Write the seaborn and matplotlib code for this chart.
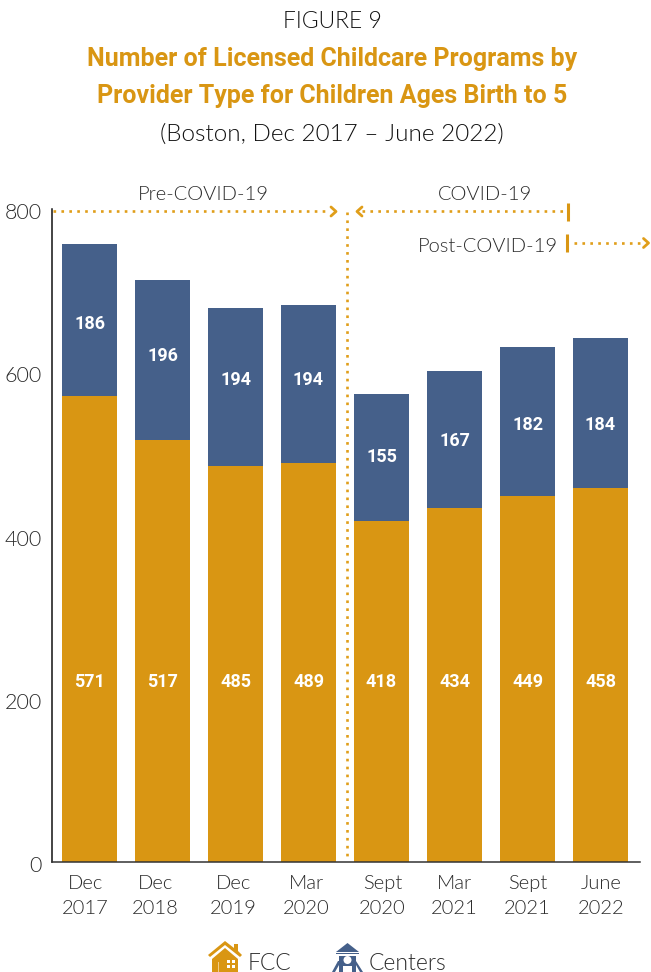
import matplotlib
matplotlib.use("Agg")
import matplotlib.pyplot as plt
from matplotlib.patches import Rectangle, Polygon, Ellipse
from matplotlib.transforms import ScaledTranslation
import seaborn as sns
import pandas as pd

periods = ["Dec\n2017", "Dec\n2018", "Dec\n2019", "Mar\n2020", "Sept\n2020", "Mar\n2021", "Sept\n2021", "June\n2022"]
fcc = [571, 517, 485, 489, 418, 434, 449, 458]
centers = [186, 196, 194, 194, 155, 167, 182, 184]
yticks = [0, 200, 400, 600, 800]
GOLD = "#D99613"
DOTGOLD = "#E09E1A"
BLUE = "#45608A"
DARK = "#2b2b2b"
W, H = 651, 972
LIGHT = dict(family=["Lato", "DejaVu Sans"], fontweight=300)

sns.set_theme(style="white")
plt.rcParams["font.family"] = ["Lato", "DejaVu Sans"]

fig = plt.figure(figsize=(W/100, H/100), dpi=100)
ax = fig.add_axes([51.5/W, 1-862/H, (640-51.5)/W, (862-209)/H])

df = pd.DataFrame({"period": periods, "FCC": fcc, "Total": [a+b for a, b in zip(fcc, centers)]})
sns.barplot(data=df, x="period", y="Total", color=BLUE, saturation=1, width=0.753, linewidth=0, ax=ax)
sns.barplot(data=df, x="period", y="FCC", color=GOLD, saturation=1, width=0.753, linewidth=0, ax=ax)

ax.set_xlim((51.5-89.5)/73, (640-89.5)/73)
ax.set_ylim(0, 800)
ax.set_xlabel(""); ax.set_ylabel("")
ax.set_yticks(yticks)
ax.tick_params(axis="y", labelsize=15.5, colors=DARK, length=0, pad=7)
ax.tick_params(axis="x", labelsize=14.5, colors=DARK, length=0, pad=9)
down = ScaledTranslation(0, -2/100, fig.dpi_scale_trans)
for lab in ax.get_yticklabels():
    lab.set_fontweight(300)
    lab.set_transform(lab.get_transform() + down)
x_nudge = [-4, -7, -2, -2, 1, 0, 0, 1]
for lab, n in zip(ax.get_xticklabels(), x_nudge):
    lab.set_linespacing(1.6)
    lab.set_fontweight(300)
    lab.set_transform(lab.get_transform() + ScaledTranslation(n/100, 0, fig.dpi_scale_trans))
for s in ["top", "right"]:
    ax.spines[s].set_visible(False)
ax.spines["left"].set_color("#111111")
ax.spines["bottom"].set_color("#333333")
for s in ["left", "bottom"]:
    ax.spines[s].set_linewidth(1.1)

label_nudge = [-4, 4, 7, 4, 1, -1, -4, -12]
for i, (a, b) in enumerate(zip(fcc, centers)):
    ax.text(i, 220.5, str(a), color="white", ha="center", va="center", fontsize=13, fontweight="bold", family="Roboto")
    ax.annotate(str(b), (i, a + b/2), xytext=(0, label_nudge[i]*0.72), textcoords="offset points",
                color="white", ha="center", va="center", fontsize=13, fontweight="bold", family="Roboto")

def fx(x): return x/W
def fy(y): return 1-y/H

DOT = dict(color=DOTGOLD, lw=1.9, linestyle=(0, (1, 2)), transform=fig.transFigure, dash_capstyle="butt")
fig.add_artist(plt.Line2D([fx(346.5)]*2, [fy(212), fy(860)], **DOT))
fig.add_artist(plt.Line2D([fx(53), fx(330)], [fy(211.5)]*2, **DOT))
fig.add_artist(plt.Line2D([fx(362), fx(564)], [fy(211.5)]*2, **DOT))
fig.add_artist(plt.Line2D([fx(574), fx(643)], [fy(243)]*2, **DOT))
for xa, ya, d in [(336, 211.5, 1), (357, 211.5, -1), (648.5, 243, 1)]:
    fig.add_artist(plt.Line2D([fx(xa-5*d), fx(xa), fx(xa-5*d)], [fy(ya-4.5), fy(ya), fy(ya+4.5)],
                              color=DOTGOLD, lw=2, transform=fig.transFigure))
fig.add_artist(plt.Line2D([fx(567.5)]*2, [fy(203), fy(221)], color=GOLD, lw=2.2, solid_capstyle="butt"))
fig.add_artist(plt.Line2D([fx(567)]*2, [fy(234), fy(252)], color=GOLD, lw=2.2, solid_capstyle="butt"))

fig.text(fx(203), fy(194), "Pre-COVID-19", ha="center", va="center", fontsize=14.5, color=DARK, **LIGHT)
fig.text(fx(485), fy(194), "COVID-19", ha="center", va="center", fontsize=14.5, color=DARK, **LIGHT)
fig.text(fx(488), fy(246), "Post-COVID-19", ha="center", va="center", fontsize=14.5, color=DARK, **LIGHT)

fig.text(fx(332), fy(22), "FIGURE 9", ha="center", va="center", fontsize=16.5, color="#111111", **LIGHT)
fig.text(fx(332), fy(59), "Number of Licensed Childcare Programs by", ha="center", va="center", fontsize=18, fontweight="bold", color=GOLD, family="Roboto")
fig.text(fx(332), fy(96), "Provider Type for Children Ages Birth to 5", ha="center", va="center", fontsize=18, fontweight="bold", color=GOLD, family="Roboto")
fig.text(fx(332), fy(134), "(Boston, Dec 2017 – June 2022)", ha="center", va="center", fontsize=17.5, color="#111111", **LIGHT)

fig.text(fx(248), fy(963), "FCC", ha="left", va="center", fontsize=16.5, color=DARK, **LIGHT)
fig.text(fx(369), fy(963), "Centers", ha="left", va="center", fontsize=16.5, color=DARK, **LIGHT)

def add(p):
    p.set_transform(fig.transFigure); fig.add_artist(p)
def poly(pts, c):
    add(Polygon([(fx(x), fy(y)) for x, y in pts], closed=True, color=c, lw=0))
def rect(x0, y0, x1, y1, c):
    add(Rectangle((fx(x0), fy(y1)), (x1-x0)/W, (y1-y0)/H, color=c, lw=0))

# house icon (FCC)
poly([(208, 955), (225, 941), (234, 948), (234, 944), (238, 944), (238, 951), (242, 955), (240, 957), (225, 945), (210, 957)], GOLD)
poly([(212, 972), (212, 959), (225, 948), (238, 959), (238, 972)], GOLD)
rect(227, 960, 235, 968, "white")
rect(230.4, 960, 231.6, 968, GOLD)
rect(227, 963.4, 235, 964.6, GOLD)
rect(218, 962, 219.2, 972, "#F0CC88")

# playground icon (Centers)
poly([(336, 952), (347.5, 943), (359, 952)], BLUE)
rect(336, 952.5, 359, 954, BLUE)
rect(339, 956, 356, 972, BLUE)
add(Ellipse((fx(347.5), fy(960)), 8/W, 8/H, color="white", lw=0))
poly([(343, 972), (343, 966), (352, 966), (352, 972)], "white")
poly([(332, 972), (338, 961), (339, 961), (339, 965), (335, 972)], BLUE)
poly([(363, 972), (356, 961), (356, 965), (360, 972)], BLUE)

fig.savefig("out.png", dpi=100)
